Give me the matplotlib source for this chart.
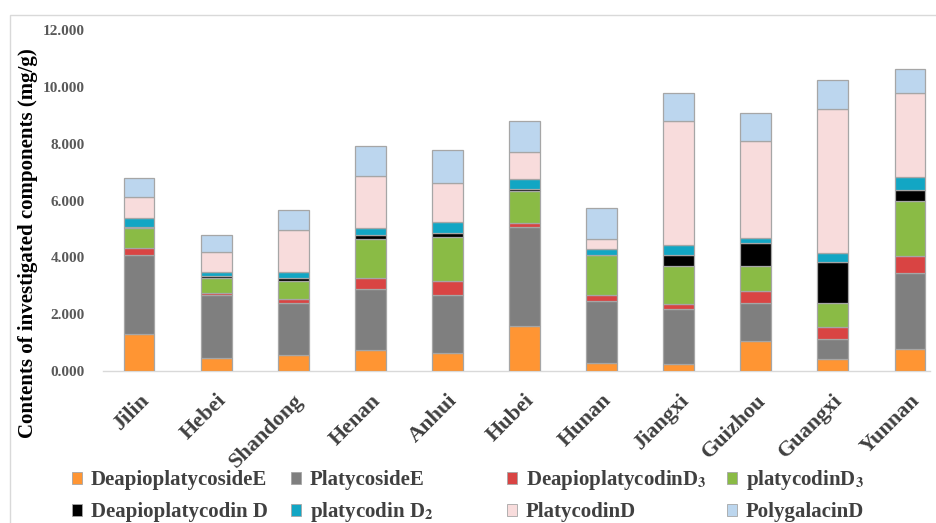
import matplotlib
matplotlib.use("Agg")
import matplotlib.pyplot as plt
from matplotlib.patches import Rectangle, Patch
import numpy as np

plt.rcParams['mathtext.fontset'] = 'stix'
plt.rcParams['mathtext.bf'] = 'serif:bold'

regions = ["Jilin", "Hebei", "Shandong", "Henan", "Anhui", "Hubei",
           "Hunan", "Jiangxi", "Guizhou", "Guangxi", "Yunnan"]

deapioplatycoside_e = [1.29, 0.47, 0.56, 0.74, 0.62, 1.58, 0.27, 0.25, 1.05, 0.42, 0.77]
platycoside_e       = [2.79, 2.20, 1.82, 2.13, 2.06, 3.49, 2.19, 1.92, 1.36, 0.72, 2.69]
deapioplatycodin_d3 = [0.25, 0.08, 0.14, 0.42, 0.49, 0.14, 0.20, 0.19, 0.41, 0.42, 0.58]
platycodin_d3       = [0.69, 0.54, 0.64, 1.34, 1.53, 1.13, 1.42, 1.33, 0.88, 0.82, 1.95]
deapioplatycodin_d  = [0.05, 0.07, 0.13, 0.17, 0.14, 0.07, 0.01, 0.40, 0.80, 1.46, 0.37]
platycodin_d2       = [0.30, 0.13, 0.20, 0.23, 0.41, 0.34, 0.19, 0.34, 0.19, 0.30, 0.45]
platycodin_d        = [0.76, 0.70, 1.47, 1.82, 1.35, 0.95, 0.38, 4.36, 3.39, 5.09, 2.97]
polygalacin_d       = [0.66, 0.58, 0.71, 1.06, 1.17, 1.09, 1.08, 0.99, 0.99, 1.02, 0.83]

series_labels = ["DeapioplatycosideE", "PlatycosideE", r"DeapioplatycodinD$_{\mathbf{3}}$",
                 r"platycodinD$_{\mathbf{3}}$", "Deapioplatycodin D", r"platycodin D$_{\mathbf{2}}$",
                 "PlatycodinD", "PolygalacinD"]
series_values = [deapioplatycoside_e, platycoside_e, deapioplatycodin_d3, platycodin_d3,
                 deapioplatycodin_d, platycodin_d2, platycodin_d, polygalacin_d]
colors = ["#FF9533", "#7F7F7F", "#D94443", "#8ABB45", "#000000", "#12A6C4",
          "#F8DCDC", "#BCD6EE"]

yticks = [0, 2, 4, 6, 8, 10, 12]

fig = plt.figure(figsize=(9.37, 5.23), dpi=100)
ax = fig.add_axes([103/937, 1-371/523, (930-103)/937, (371-30)/523])

x = np.arange(len(regions))
bottom = np.zeros(len(regions))
handles = []
for lab, vals, col in zip(series_labels, series_values, colors):
    v = np.array(vals)
    ax.bar(x, v, 0.4, bottom=bottom, color=col, edgecolor="#A6A6A6", linewidth=0.9, zorder=3)
    bottom += v
    handles.append(Patch(facecolor=col, edgecolor="#A6A6A6", linewidth=0.6, label=lab))

ax.set_xlim(-0.467, 10.26)
ax.set_ylim(0, 12)
ax.set_yticks(yticks)
ax.set_yticklabels([f"{t:.3f}" for t in yticks], fontfamily="Liberation Serif",
                   fontweight="bold", fontsize=11, color="#595959")
ax.set_xticks(x)
ax.set_xticklabels(regions, rotation=45, ha="right", rotation_mode="anchor",
                   fontfamily="Liberation Serif", fontweight="bold", fontsize=16,
                   color="#404040")
ax.tick_params(axis="both", length=0)
ax.tick_params(axis="y", pad=13)
ax.tick_params(axis="x", pad=14)
for s in ["top", "right", "left"]:
    ax.spines[s].set_visible(False)
ax.spines["bottom"].set_color("#D9D9D9")
ax.spines["bottom"].set_linewidth(1.0)

fig.text(28/937, 1-243/523, "Contents of investigated components (mg/g)", rotation=90,
         ha="center", va="center", fontfamily="Liberation Serif", fontweight="bold",
         fontsize=15, color="black")

# outer frame
fig.patches.append(Rectangle((10/937, -0.1), 1.2, 1.1 - 15/523, transform=fig.transFigure,
                             fill=False, edgecolor="#D9D9D9", linewidth=1.0))

col_x = [72, 291, 507, 727]
row_y = [480, 512]
for i, h in enumerate(handles):
    cx = col_x[i % 4]
    ry = row_y[i // 4]
    leg = fig.legend(handles=[h], loc="center left", bbox_to_anchor=(cx/937, 1-ry/523),
                     frameon=False, handlelength=0.5, handleheight=0.5, handletextpad=0.4,
                     borderaxespad=0, borderpad=0,
                     prop={"family": "Liberation Serif", "size": 15, "weight": "bold"})
    for t in leg.get_texts():
        t.set_color("#404040")

fig.savefig("out.png", dpi=100)
